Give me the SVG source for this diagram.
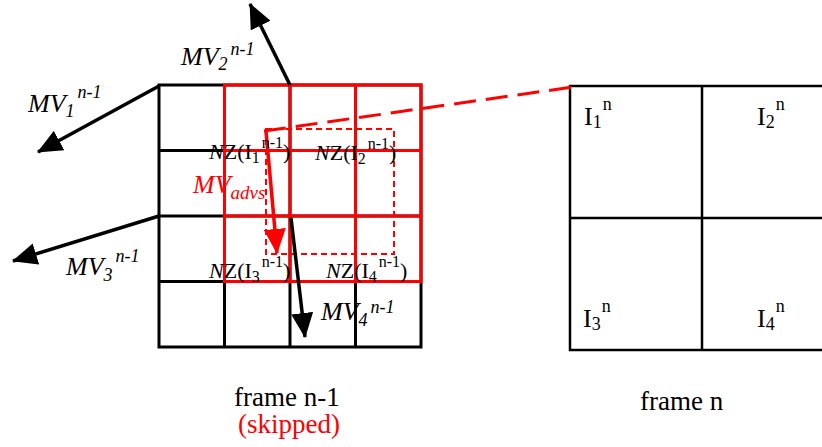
<svg xmlns="http://www.w3.org/2000/svg" width="822" height="447" viewBox="0 0 822 447">
<style>
text,tspan{font-family:"Liberation Serif","Times New Roman",serif}
text{fill:#000}
.mv{font-size:26px;font-style:italic}
.mvs{font-size:18px}
.nz{font-size:22px}
.ns{font-size:16px}
.in{font-size:26px}
.ins{font-size:18px}
.red{fill:#ff0000}
.blk{stroke:#000;stroke-width:3;fill:none}
.rg{stroke:#ff0000;stroke-width:3;fill:none}
.arr{stroke:#000;stroke-width:3.5;fill:none}
.lab{font-size:27px}
</style>
<defs>
<marker id="hb" markerUnits="userSpaceOnUse" markerWidth="26" markerHeight="22" refX="24" refY="11" orient="auto" viewBox="0 0 26 22">
<path d="M0,0 L25,11 L0,22 z" fill="#000"/>
</marker>
<marker id="hr" markerUnits="userSpaceOnUse" markerWidth="26" markerHeight="22" refX="24" refY="11" orient="auto" viewBox="0 0 26 22">
<path d="M0,0 L25,11 L0,22 z" fill="#ff0000"/>
</marker>
</defs>
<rect width="822" height="447" fill="#fff"/>

<g id="frame-n-1-grid">
<rect class="blk" x="159" y="85" width="262" height="262"/>
<path class="blk" d="M224.5,85V347M290,85V347M355.5,85V347M159,150.5H421M159,216H421M159,281.5H421"/>
</g>
<g id="search-window">
<rect class="rg" x="224.5" y="85" width="196.5" height="196.5"/>
<path class="rg" d="M290,85V281.5M355.5,85V281.5M224.5,150.5H421M224.5,216H421"/>
<rect x="266" y="129" width="128" height="125" fill="none" stroke="#ff0000" stroke-width="2" stroke-dasharray="6 4"/>
</g>
<g id="frame-n-grid">
<rect x="570" y="86" width="264" height="264" fill="none" stroke="#000" stroke-width="2.5"/>
<path d="M702,86V350M570,218H834" stroke="#000" stroke-width="2.5" fill="none"/>
</g>

<g id="connectors">
<line x1="264" y1="131" x2="580" y2="86" stroke="#ff0000" stroke-width="3" stroke-dasharray="22 10"/>
<line class="arr" x1="159" y1="86" x2="38" y2="152" marker-end="url(#hb)"/>
<line class="arr" x1="290" y1="85" x2="250" y2="4" marker-end="url(#hb)"/>
<line class="arr" x1="159" y1="216" x2="13" y2="261" marker-end="url(#hb)"/>
<line class="arr" x1="291" y1="218" x2="305" y2="337" marker-end="url(#hb)"/>
<line x1="266" y1="131" x2="277" y2="253" stroke="#ff0000" stroke-width="3.5" marker-end="url(#hr)"/>
</g>

<g id="mv1"><text class="mv" x="28" y="112">MV<tspan class="mvs" dy="5">1</tspan><tspan class="mvs" dx="3" dy="-19">n-1</tspan></text></g>
<g id="mv2"><text class="mv" x="181" y="65">MV<tspan class="mvs" dy="5">2</tspan><tspan class="mvs" dx="3" dy="-15">n-1</tspan></text></g>
<g id="mv3"><text class="mv" x="66" y="275">MV<tspan class="mvs" dy="6">3</tspan><tspan class="mvs" dx="3" dy="-19">n-1</tspan></text></g>
<g id="mv4"><text class="mv" x="321" y="320">MV<tspan class="mvs" dy="6">4</tspan><tspan class="mvs" dx="3" dy="-13">n-1</tspan></text></g>
<g id="mvadvs"><text class="mv red" x="193" y="193">MV<tspan font-size="19" dy="6">advs</tspan></text></g>

<g id="nz1"><text class="nz" x="209" y="159"><tspan font-style="italic">N</tspan>Z(I<tspan class="ns" dy="4">1</tspan><tspan class="ns" dx="2" dy="-15">n-1</tspan><tspan dy="11">)</tspan></text></g>
<g id="nz2"><text class="nz" x="315" y="160"><tspan font-style="italic">N</tspan>Z(I<tspan class="ns" dy="4">2</tspan><tspan class="ns" dx="2" dy="-15">n-1</tspan><tspan dy="11">)</tspan></text></g>
<g id="nz3"><text class="nz" x="209" y="278"><tspan font-style="italic">N</tspan>Z(I<tspan class="ns" dy="4">3</tspan><tspan class="ns" dx="2" dy="-15">n-1</tspan><tspan dy="11">)</tspan></text></g>
<g id="nz4"><text class="nz" x="326" y="278"><tspan font-style="italic">N</tspan>Z(I<tspan class="ns" dy="4">4</tspan><tspan class="ns" dx="2" dy="-15">n-1</tspan><tspan dy="11">)</tspan></text></g>

<g id="i1"><text class="in" x="584" y="125">I<tspan class="ins" dy="3">1</tspan><tspan class="ins" dx="1" dy="-18">n</tspan></text></g>
<g id="i2"><text class="in" x="757" y="125">I<tspan class="ins" dy="3">2</tspan><tspan class="ins" dx="1" dy="-18">n</tspan></text></g>
<g id="i3"><text class="in" x="583" y="327">I<tspan class="ins" dy="3">3</tspan><tspan class="ins" dx="1" dy="-18">n</tspan></text></g>
<g id="i4"><text class="in" x="757" y="327">I<tspan class="ins" dy="3">4</tspan><tspan class="ins" dx="1" dy="-18">n</tspan></text></g>

<g id="label-frame-n-1"><text class="lab" x="234" y="406">frame n-1</text>
<text class="lab red" x="238" y="433">(skipped)</text></g>
<g id="label-frame-n"><text class="lab" x="640" y="410">frame n</text></g>
</svg>
